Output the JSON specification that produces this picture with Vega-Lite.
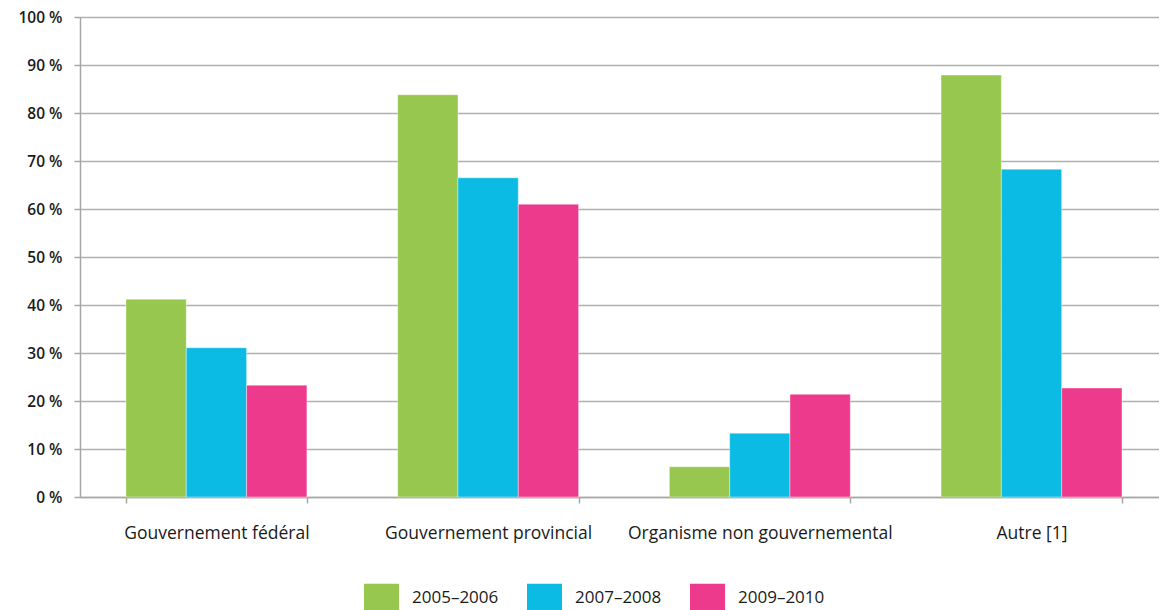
{
  "$schema": "https://vega.github.io/schema/vega-lite/v6.json",
  "width": 1079,
  "height": 480,
  "autosize": {"type": "none"},
  "padding": {"left": 80, "top": 17, "right": 0, "bottom": 113},
  "background": "white",
  "config": {
    "view": {"stroke": null},
    "font": "Open Sans"
  },
  "data": {
    "values": [
      {"categorie": "Gouvernement fédéral", "periode": "2005–2006", "valeur": 41.2},
      {"categorie": "Gouvernement fédéral", "periode": "2007–2008", "valeur": 31.1},
      {"categorie": "Gouvernement fédéral", "periode": "2009–2010", "valeur": 23.3},
      {"categorie": "Gouvernement provincial", "periode": "2005–2006", "valeur": 83.8},
      {"categorie": "Gouvernement provincial", "periode": "2007–2008", "valeur": 66.5},
      {"categorie": "Gouvernement provincial", "periode": "2009–2010", "valeur": 61.0},
      {"categorie": "Organisme non gouvernemental", "periode": "2005–2006", "valeur": 6.3},
      {"categorie": "Organisme non gouvernemental", "periode": "2007–2008", "valeur": 13.3},
      {"categorie": "Organisme non gouvernemental", "periode": "2009–2010", "valeur": 21.4},
      {"categorie": "Autre [1]", "periode": "2005–2006", "valeur": 87.9},
      {"categorie": "Autre [1]", "periode": "2007–2008", "valeur": 68.3},
      {"categorie": "Autre [1]", "periode": "2009–2010", "valeur": 22.7}
    ]
  },
  "mark": {"type": "bar", "stroke": "white", "strokeOpacity": 0.4, "strokeWidth": 1},
  "encoding": {
    "x": {
      "field": "categorie",
      "type": "nominal",
      "sort": null,
      "title": null,
      "scale": {"paddingInner": 0.334, "paddingOuter": 0.1527, "align": 0.554},
      "axis": {
        "labelAngle": 0,
        "labelFontSize": 17.5,
        "labelLimit": 0,
        "labelColor": "#1a1a1a",
        "labelPadding": 21,
        "labelDx": -5,
        "tickBand": "extent",
        "tickSize": 6,
        "tickColor": "#a6a6a6",
        "domainColor": "#a6a6a6",
        "domainWidth": 1.5,
        "tickWidth": 1.5,
        "grid": false
      }
    },
    "xOffset": {
      "field": "periode",
      "type": "nominal",
      "scale": {"paddingInner": 0, "paddingOuter": 0}
    },
    "y": {
      "field": "valeur",
      "type": "quantitative",
      "title": null,
      "scale": {"domain": [0, 100], "nice": false},
      "axis": {
        "values": [0, 10, 20, 30, 40, 50, 60, 70, 80, 90, 100],
        "labelExpr": "datum.value + ' %'",
        "labelFontSize": 15.5,
        "labelFontWeight": 600,
        "labelColor": "#1a1a1a",
        "labelPadding": 12,
        "tickSize": 6,
        "tickColor": "#a6a6a6",
        "tickWidth": 1.5,
        "domainColor": "#a6a6a6",
        "domainWidth": 1.5,
        "grid": true,
        "gridColor": "#b0b0b0",
        "gridWidth": 1.5
      }
    },
    "color": {
      "field": "periode",
      "type": "nominal",
      "title": null,
      "scale": {
        "domain": ["2005–2006", "2007–2008", "2009–2010"],
        "range": ["#97c74e", "#0bbbe3", "#ee3a8c"]
      },
      "legend": {
        "orient": "none",
        "legendX": 284,
        "legendY": 563,
        "direction": "horizontal",
        "columns": 3,
        "symbolType": "M-1,-0.8H1V0.8H-1Z",
        "symbolSize": 1225,
        "symbolStrokeWidth": 0,
        "symbolOpacity": 1,
        "labelFontSize": 17,
        "labelFontWeight": 500,
        "labelColor": "#1a1a1a",
        "labelOffset": 13,
        "columnPadding": 28
      }
    }
  }
}
